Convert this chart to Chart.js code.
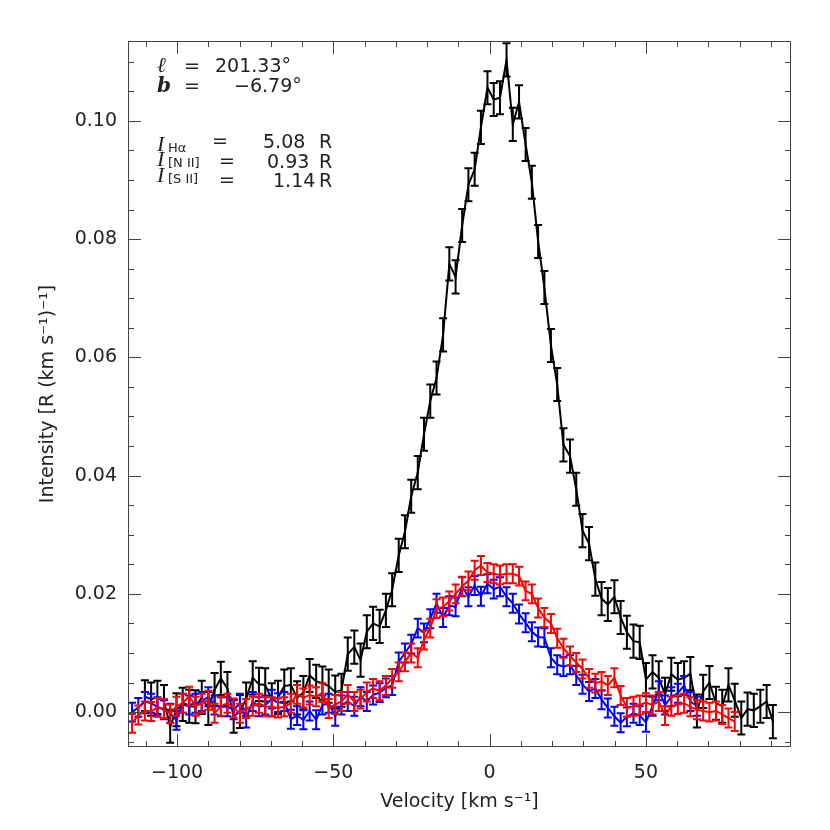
<!DOCTYPE html>
<html>
<head>
<meta charset="utf-8">
<script src="https://cdn.jsdelivr.net/npm/chart.js@4.4.1/dist/chart.umd.min.js"></script>
<style>
  html, body { margin: 0; padding: 0; background: #fff; }
  #spec { display: block; }
</style>
</head>
<body>
<canvas id="spec" width="830" height="830"></canvas>
<script>
// velocity grid (km/s) shared by all three lines
const velocity = [
  -114.4, -112.4, -110.3, -108.3, -106.3, -104.2, -102.2, -100.2, -98.2, -96.1,
  -94.1, -92.1, -90.0, -88.0, -86.0, -83.9, -81.9, -79.9, -77.9, -75.8,
  -73.8, -71.8, -69.7, -67.7, -65.7, -63.6, -61.6, -59.6, -57.6, -55.5,
  -53.5, -51.5, -49.4, -47.4, -45.4, -43.3, -41.3, -39.3, -37.3, -35.2,
  -33.2, -31.2, -29.1, -27.1, -25.1, -23.0, -21.0, -19.0, -17.0, -14.9,
  -12.9, -10.9, -8.8, -6.8, -4.8, -2.8, -0.7, 1.3, 3.3, 5.4,
  7.4, 9.4, 11.5, 13.5, 15.5, 17.5, 19.6, 21.6, 23.6, 25.7,
  27.7, 29.7, 31.8, 33.8, 35.8, 37.8, 39.9, 41.9, 43.9, 46.0,
  48.0, 50.0, 52.1, 54.1, 56.1, 58.1, 60.2, 62.2, 64.2, 66.3,
  68.3, 70.3, 72.4, 74.4, 76.4, 78.4, 80.5, 82.5, 84.5, 86.6,
  88.6, 90.6
];

// H-alpha (black)
const halpha = [
  null, null, 0.0026, 0.0022, 0.0025, 0.0018, -0.0024, 0.0004, 0.0013, 0.0010,
  0.0009, 0.0025, 0.0006, 0.0038, 0.0057, 0.0040, -0.0007, 0.0001, 0.0022, 0.0058,
  0.0047, 0.0046, 0.0021, 0.0025, 0.0044, 0.0046, 0.0024, 0.0033, 0.0062, 0.0052,
  0.0049, 0.0044, 0.0034, 0.0037, 0.0098, 0.0110, 0.0088, 0.0136, 0.0150, 0.0145,
  0.0172, 0.0207, 0.0265, 0.0305, 0.0365, 0.0405, 0.0470, 0.0526, 0.0565, 0.0638,
  0.0758, 0.0736, 0.0823, 0.0892, 0.0918, 0.0989, 0.1056, 0.1036, 0.1039, 0.1103,
  0.0994, 0.1032, 0.0960, 0.0896, 0.0796, 0.0718, 0.0620, 0.0554, 0.0452, 0.0433,
  0.0377, 0.0307, 0.0285, 0.0225, 0.0192, 0.0182, 0.0195, 0.0160, 0.0135, 0.0120,
  0.0118, 0.0055, 0.0068, 0.0058, 0.0030, 0.0064, 0.0055, 0.0058, 0.0065, 0.0002,
  0.0035, 0.0050, 0.0015, 0.0010, 0.0046, 0.0020, -0.0010, 0.0005, 0.0003, 0.0010,
  0.0018, -0.0016
];

// [N II] (blue)
const nii = [
  0.0000, 0.0008, 0.0018, 0.0015, 0.0009, 0.0004, -0.0002, -0.0014, 0.0015, 0.0012,
  0.0015, 0.0018, 0.0026, 0.0012, 0.0009, 0.0009, 0.0004, 0.0015, -0.0010, 0.0018,
  0.0009, 0.0012, 0.0022, 0.0016, 0.0018, -0.0012, -0.0006, -0.0013, 0.0002, -0.0013,
  0.0012, 0.0015, -0.0007, 0.0012, 0.0018, 0.0010, 0.0026, 0.0018, 0.0029, 0.0033,
  0.0041, 0.0045, 0.0085, 0.0100, 0.0115, 0.0142, 0.0134, 0.0158, 0.0184, 0.0160,
  0.0180, 0.0178, 0.0212, 0.0195, 0.0214, 0.0196, 0.0217, 0.0208, 0.0212, 0.0195,
  0.0184, 0.0166, 0.0151, 0.0136, 0.0127, 0.0126, 0.0092, 0.0080, 0.0077, 0.0080,
  0.0062, 0.0047, 0.0035, 0.0040, 0.0021, 0.0007, -0.0007, -0.0018, -0.0008, -0.0002,
  -0.0006, -0.0017, 0.0010, 0.0036, 0.0012, 0.0026, 0.0032, 0.0045, 0.0018, 0.0010,
  null, null, null, null, null, null, null, null, null, null,
  null, null
];

// [S II] (red)
const sii = [
  -0.0019, -0.0005, 0.0002, 0.0001, 0.0008, 0.0006, -0.0003, 0.0010, 0.0015, 0.0027,
  0.0010, 0.0015, 0.0020, -0.0002, 0.0010, 0.0015, 0.0007, -0.0002, 0.0006, 0.0010,
  0.0015, 0.0009, 0.0009, 0.0007, 0.0009, 0.0015, 0.0030, 0.0024, 0.0029, 0.0026,
  0.0033, 0.0006, 0.0013, 0.0018, 0.0030, 0.0018, 0.0022, 0.0034, 0.0040, 0.0036,
  0.0045, 0.0057, 0.0068, 0.0085, 0.0100, 0.0092, 0.0122, 0.0142, 0.0175, 0.0178,
  0.0188, 0.0200, 0.0213, 0.0222, 0.0240, 0.0248, 0.0236, 0.0234, 0.0232, 0.0234,
  0.0234, 0.0230, 0.0205, 0.0200, 0.0176, 0.0160, 0.0150, 0.0125, 0.0108, 0.0095,
  0.0084, 0.0073, 0.0057, 0.0049, 0.0052, 0.0045, 0.0058, 0.0028, 0.0008, 0.0010,
  0.0012, 0.0016, 0.0012, 0.0018, -0.0006, 0.0010, 0.0013, 0.0015, 0.0009, 0.0004,
  0.0002, 0.0000, 0.0002, -0.0004, -0.0010, -0.0016, null, null, null, null,
  null, null
];

// 1-sigma uncertainties
const halphaErr = 0.0028;
const niiErr = 0.0016;
const siiErr = 0.0016;

const xTickValues = [-100, -50, 0, 50];
const xMinorValues = [-110, -100, -90, -80, -70, -60, -50, -40, -30, -20, -10, 0, 10, 20, 30, 40, 50, 60, 70, 80, 90];
const yTickValues = [0, 0.02, 0.04, 0.06, 0.08, 0.10];
const yMinorValues = [-0.005, 0, 0.005, 0.01, 0.015, 0.02, 0.025, 0.03, 0.035, 0.04, 0.045, 0.05,
  0.055, 0.06, 0.065, 0.07, 0.075, 0.08, 0.085, 0.09, 0.095, 0.1, 0.105, 0.11];

const FONT = '"DejaVu Sans", sans-serif';
const INK = '#222';

function toPoints(vals) {
  const pts = [];
  vals.forEach((v, i) => {
    if (v !== null) pts.push({ x: velocity[i], y: v });
  });
  return pts;
}

// error bars drawn right after each line so the stacking matches
const errorBars = {
  id: 'errorBars',
  afterDatasetDraw(chart, args) {
    const ds = chart.data.datasets[args.index];
    const y = chart.scales.y;
    const a = chart.chartArea;
    const ctx = chart.ctx;
    ctx.save();
    ctx.beginPath();
    ctx.rect(a.left, a.top, a.right - a.left, a.bottom - a.top);
    ctx.clip();
    ctx.strokeStyle = ds.borderColor;
    ctx.lineWidth = 2;
    args.meta.data.forEach((pt, i) => {
      const v = ds.data[i].y;
      const top = y.getPixelForValue(v + ds.err);
      const bot = y.getPixelForValue(v - ds.err);
      ctx.beginPath();
      ctx.moveTo(pt.x, top);
      ctx.lineTo(pt.x, bot);
      ctx.moveTo(pt.x - 4, top);
      ctx.lineTo(pt.x + 4, top);
      ctx.moveTo(pt.x - 4, bot);
      ctx.lineTo(pt.x + 4, bot);
      ctx.stroke();
    });
    ctx.restore();
  }
};

// box with inward ticks on all four sides, plus the text block
const frame = {
  id: 'frame',
  afterDraw(chart) {
    const { ctx, chartArea: a, scales: { x, y } } = chart;
    ctx.save();
    ctx.strokeStyle = '#444';
    ctx.lineWidth = 1;
    ctx.strokeRect(a.left + 0.5, a.top + 0.5, a.right - a.left - 1, a.bottom - a.top - 1);
    ctx.beginPath();
    xMinorValues.forEach(v => {
      const px = Math.round(x.getPixelForValue(v)) + 0.5;
      const len = xTickValues.includes(v) ? 13 : 6;
      ctx.moveTo(px, a.bottom); ctx.lineTo(px, a.bottom - len);
      ctx.moveTo(px, a.top); ctx.lineTo(px, a.top + len);
    });
    yMinorValues.forEach(v => {
      const py = Math.round(y.getPixelForValue(v)) + 0.5;
      const len = yTickValues.some(t => Math.abs(t - v) < 1e-9) ? 13 : 6;
      ctx.moveTo(a.left, py); ctx.lineTo(a.left + len, py);
      ctx.moveTo(a.right, py); ctx.lineTo(a.right - len, py);
    });
    ctx.stroke();

    ctx.fillStyle = INK;
    ctx.textBaseline = 'alphabetic';
    ctx.textAlign = 'left';
    // galactic coordinates
    ctx.font = 'italic 21px "DejaVu Serif"';
    ctx.fillText('\u2113', 157, 72);
    ctx.font = 'bold italic 20px "DejaVu Serif"';
    ctx.fillText('b', 157, 92);
    ctx.font = '19px ' + FONT;
    ctx.fillText('=', 184, 72);
    ctx.fillText('=', 184, 92);
    ctx.fillText('201.33\u00b0', 215, 72);
    ctx.fillText('\u22126.79\u00b0', 234, 92);

    // line intensities
    const rows = [
      { sub: 'H\u03b1', base: 151, eq: 212, val: '5.08', vx: 263, vb: 148 },
      { sub: '[N II]', base: 166, eq: 219, val: '0.93', vx: 267, vb: 168 },
      { sub: '[S II]', base: 182, eq: 219, val: '1.14', vx: 273, vb: 187 }
    ];
    rows.forEach(r => {
      ctx.font = 'italic 22px "Liberation Serif"';
      ctx.fillText('I', 157, r.base);
      ctx.font = '13px ' + FONT;
      ctx.fillText(r.sub, 168, r.base + 1);
      ctx.font = '19px ' + FONT;
      ctx.fillText('=', r.eq, r.vb - 1);
      ctx.fillText(r.val, r.vx, r.vb);
      ctx.fillText('R', 319, r.vb);
    });
    ctx.restore();
  }
};

new Chart(document.getElementById('spec'), {
  type: 'line',
  data: {
    datasets: [
      { label: '[S II]', data: toPoints(sii), err: siiErr, borderColor: '#ff0000' },
      { label: '[N II]', data: toPoints(nii), err: niiErr, borderColor: '#0000ff' },
      { label: 'H-alpha', data: toPoints(halpha), err: halphaErr, borderColor: '#000000' }
    ].map(d => Object.assign(d, { borderWidth: 2, pointRadius: 0, tension: 0, fill: false }))
  },
  options: {
    responsive: false,
    animation: false,
    devicePixelRatio: 1,
    layout: { padding: { top: 41, right: 39, left: 0, bottom: 0 } },
    plugins: { legend: { display: false }, tooltip: { enabled: false } },
    scales: {
      x: {
        type: 'linear',
        min: -115.7,
        max: 96.4,
        afterFit: s => { s.height = 83; },
        afterBuildTicks: s => { s.ticks = xTickValues.map(v => ({ value: v })); },
        grid: { display: false, drawTicks: false },
        border: { display: false },
        ticks: {
          padding: 15,
          color: INK,
          font: { family: FONT, size: 19 },
          maxRotation: 0,
          callback: v => String(v).replace('-', '\u2212')
        },
        title: {
          display: true,
          text: 'Velocity [km s\u207b\u00b9]',
          color: INK,
          font: { family: FONT, size: 19 },
          padding: { top: 0, bottom: 17 }
        }
      },
      y: {
        type: 'linear',
        min: -0.0059,
        max: 0.1135,
        afterFit: s => { s.width = 128; },
        afterBuildTicks: s => { s.ticks = yTickValues.map(v => ({ value: v })); },
        grid: { display: false, drawTicks: false },
        border: { display: false },
        ticks: {
          padding: 11,
          color: INK,
          font: { family: FONT, size: 19 },
          callback: v => v.toFixed(2)
        },
        title: {
          display: true,
          text: 'Intensity [R (km s\u207b\u00b9)\u207b\u00b9]',
          color: INK,
          font: { family: FONT, size: 19 },
          padding: { top: 37, bottom: 0 }
        }
      }
    }
  },
  plugins: [errorBars, frame]
});
</script>
</body>
</html>
